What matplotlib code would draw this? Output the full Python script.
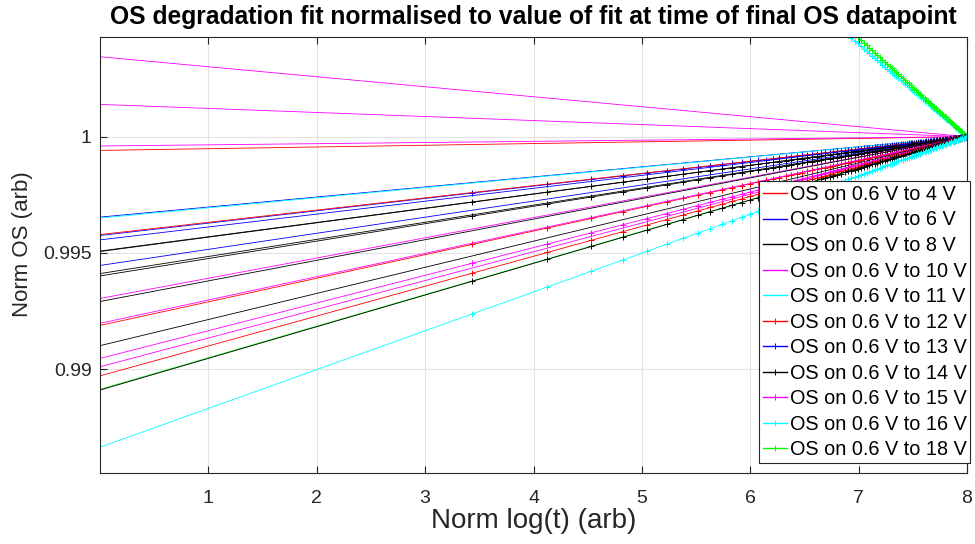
import numpy as np
import matplotlib
matplotlib.use("Agg")
import matplotlib.pyplot as plt

plt.rcParams['font.family'] = ['Liberation Sans', 'DejaVu Sans']

# fit value (normalised OS) at norm log(t) = 0; every fit is 1 at the final point (x = 8)
x_final = 8.0
legend_labels = ['OS on 0.6 V to 4 V', 'OS on 0.6 V to 6 V', 'OS on 0.6 V to 8 V',
                 'OS on 0.6 V to 10 V', 'OS on 0.6 V to 11 V', 'OS on 0.6 V to 12 V',
                 'OS on 0.6 V to 13 V', 'OS on 0.6 V to 14 V', 'OS on 0.6 V to 15 V',
                 'OS on 0.6 V to 16 V', 'OS on 0.6 V to 18 V']
fit_start = [0.99941, 0.99654, 0.99508, 1.00344, 0.99650,
             0.99188, 0.99575, 0.99506, 0.99046, 1.0318, 1.0340,
             1.00139, 0.99960, 0.99579, 0.99556, 0.99446, 0.99411, 0.99401,
             0.99304, 0.99291, 0.99197, 0.99101, 0.99010, 0.98971, 0.98913,
             0.98910, 0.98664]
line_colors = ['r', 'b', 'k', 'm', 'c',
               'r', 'b', 'k', 'm', 'c', 'g',
               'm', 'm', 'r', 'b', 'b', 'k', 'k',
               'm', 'k', 'm', 'k', 'm', 'r', 'g',
               'k', 'c']
has_markers = [False, False, False, False, False,
               True, True, True, True, True, True,
               False, False, False, False, False, False, True,
               False, False, False, False, False, True, False,
               True, True]

# MATLAB's short colour names
matlab_rgb = {'r': '#ff0000', 'b': '#0000ff', 'k': '#000000',
              'm': '#ff00ff', 'c': '#00ffff', 'g': '#00ff00'}

# measurement times (index of datapoint); x = log(t) shifted so last point sits at 8
t_meas = np.array([1, 2, 3, 4, 5, 6, 7, 8, 9, 10, 11, 12, 13, 14, 15, 16, 17, 18, 19, 20,
                   21, 22, 23, 24, 25, 26, 27, 28, 29, 30, 31, 32, 33, 34, 35, 36, 37, 38,
                   39, 40, 41, 42, 43, 44, 45, 46, 47, 48, 49, 50, 51, 52, 53, 54, 55, 56,
                   57, 58, 59, 60, 61, 62, 63, 64, 65, 66, 67, 68, 69, 70, 71, 72, 73, 74,
                   75, 76, 77, 78, 79, 80, 81, 82, 83, 84, 85, 86, 87, 88, 89, 90, 91, 92,
                   93, 94, 95, 96])
x_meas = np.log(t_meas) - np.log(t_meas[-1]) + x_final

fig = plt.figure(figsize=(9.75, 5.44), dpi=100)
ax = fig.add_axes([0.1026, 0.1305, 0.8892, 0.8015])

handles = []
for i, (y0, col, mk) in enumerate(zip(fit_start, line_colors, has_markers)):
    x = np.concatenate([[0.0], x_meas])
    y = 1 + (y0 - 1) * (1 - x / x_final)
    lbl = legend_labels[i] if i < len(legend_labels) else '_nolegend_'
    c = matlab_rgb[col]
    if mk:
        h, = ax.plot(x, y, '-', color=c, lw=0.6, marker='+', markersize=4,
                     markeredgewidth=0.7, markevery=slice(1, None), label=lbl)
    else:
        h, = ax.plot(x, y, '-', color=c, lw=0.6, label=lbl)
    if i < len(legend_labels):
        handles.append(h)

ax.set_xlim(0, 8)
ax.set_ylim(0.98553, 1.00429)
ax.set_xticks([1, 2, 3, 4, 5, 6, 7, 8])
ax.set_yticks([0.99, 0.995, 1.0])
ax.set_yticklabels(['0.99', '0.995', '1'])
ax.grid(True, color='#e3e3e3', lw=0.8)
ax.set_axisbelow(True)
ax.tick_params(direction='in', top=True, right=True, length=5, width=0.8,
               colors='#262626', labelsize=14)
ax.tick_params(axis='x', pad=12)
ax.tick_params(axis='y', pad=6)
for s in ax.spines.values():
    s.set_color('#262626')
    s.set_linewidth(0.8)

ax.set_xlabel('Norm log(t) (arb)', fontsize=20, color='#262626', labelpad=1)
ax.set_ylabel('Norm OS (arb)', fontsize=16, color='#262626')
ax.yaxis.set_label_coords(-0.077, 0.525)
ax.set_title('OS degradation fit normalised to value of fit at time of final OS datapoint',
             fontsize=17.7, fontweight='bold', pad=9)

leg = ax.legend(handles=handles, loc='lower right', bbox_to_anchor=(1.004, 0.022),
                fontsize=14.3, fancybox=False, framealpha=1, edgecolor='#262626',
                handlelength=1.2, handletextpad=0.12, borderpad=0.2, labelspacing=0.33,
                borderaxespad=0)
leg.get_frame().set_linewidth(0.8)
for lh in leg.get_lines():
    lh.set_linewidth(1.0)

fig.savefig('out.png', dpi=100)
